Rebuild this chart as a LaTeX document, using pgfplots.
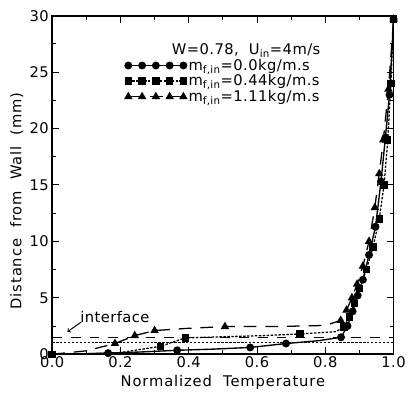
\documentclass[border=0pt]{standalone}
\usepackage{fontspec}
\setmainfont{DejaVu Sans}[LetterSpace=3]
\newfontfamily\wide{DejaVu Sans}[LetterSpace=6]
\usepackage{pgfplots}
\pgfplotsset{compat=1.18}
\begin{document}
\begin{tikzpicture}
\begin{axis}[
  scale only axis, width=347bp, height=344bp,
  xmin=0, xmax=1, ymin=0, ymax=30,
  xtick={0,0.2,0.4,0.6,0.8,1}, ytick={0,5,10,15,20,25,30},
  minor x tick num=1, minor y tick num=1,
  major tick length=7bp, minor tick length=4bp,
  tick style={black, line width=1pt},
  axis line style={line width=1.6pt},
  /pgf/number format/assume math mode=true,
  tick label style={font=\fontsize{15}{16}\selectfont},
  xticklabel style={yshift=1bp, /pgf/number format/fixed, /pgf/number format/fixed zerofill, /pgf/number format/precision=1},
  label style={font=\wide\fontsize{15}{16}\selectfont},
  xlabel={Normalized\ \ Temperature},
  ylabel={Distance\ \ from\ \ Wall\ \ (mm)},
  xlabel style={at={(axis description cs:0.5,-0.084)}, anchor=center},
  ylabel style={at={(axis description cs:-0.104,0.453)}, anchor=center},
  legend style={at={(axis description cs:0.213,0.878)}, anchor=north west, draw=none, fill=none,
    font=\fontsize{15}{16}\selectfont, inner sep=0pt, row sep=-1bp, cells={anchor=west}},
  legend image code/.code={\draw[#1, mark indices={}, mark repeat=1, mark phase=1] plot coordinates {(0bp,0bp) (14bp,0bp) (28bp,0bp) (42bp,0bp) (56bp,0bp)};},
]
% interface lines
\addplot[black, line width=1pt, dash pattern=on 10bp off 9bp, forget plot] coordinates {(0,1.45) (1,1.45)};
\addplot[black, line width=1pt, dash pattern=on 2.5bp off 1.5bp, forget plot] coordinates {(0,1.05) (1,1.05)};

% m = 0.0 (circles, solid)
\addplot[black, line width=1.4pt, mark=*, mark size=3.3bp, mark options={solid},
  mark indices={3,5,7,8,10,11,12,13,14,15,16,17,18,19,20}] coordinates {
(0,0) (0.08,0.02) (0.164,0.1) (0.26,0.2) (0.366,0.35) (0.47,0.45) (0.58,0.6) (0.685,0.95)
(0.78,1.2) (0.846,1.5) (0.865,2.5) (0.88,3.8) (0.895,5.2) (0.91,6.6) (0.928,8.8)
(0.947,11.3) (0.963,15.3) (0.976,19.2) (0.988,23) (1.0,29.7)};
\addlegendentry{m\textsubscript{f,in}=0.0kg/m.s}

% m = 0.44 (squares, fine dashes)
\addplot[black, line width=1.3pt, dash pattern=on 2.5bp off 1.5bp, mark=square*, mark size=3.1bp, mark options={solid},
  mark indices={1,4,5,8,10,11,12,13,14,15,16,17,18,19,20}] coordinates {
(0,0) (0.1,0.05) (0.2,0.15) (0.317,0.7) (0.39,1.45) (0.5,1.55) (0.62,1.65) (0.726,1.8)
(0.83,2.0) (0.855,2.4) (0.87,3.3) (0.885,4.5) (0.9,5.8) (0.92,7.5) (0.94,9.5)
(0.958,12) (0.972,15) (0.983,19) (0.992,24) (1.0,29.7)};
\addlegendentry{m\textsubscript{f,in}=0.44kg/m.s}

% m = 1.11 (triangles, long dashes)
\addplot[black, line width=1.3pt, dash pattern=on 13bp off 9bp, mark=triangle*, mark size=3.7bp, mark options={solid},
  mark indices={3,4,5,7,10,11,12,13,14,15,16,17,18,19,20}] coordinates {
(0,0) (0.1,0.3) (0.184,0.95) (0.242,1.65) (0.30,2.1) (0.4,2.3) (0.506,2.45) (0.65,2.45)
(0.8,2.55) (0.845,3.0) (0.862,3.9) (0.878,5.0) (0.893,6.2) (0.91,7.8) (0.928,10)
(0.945,13) (0.958,16) (0.97,19) (0.985,23.5) (1.0,29.7)};
\addlegendentry{m\textsubscript{f,in}=1.11kg/m.s}

\node[font=\fontsize{15}{16}\selectfont] at (axis cs:0.568,26.9) {W=0.78,\ \ U\textsubscript{in}=4m/s};
\node[font=\fontsize{15}{16}\selectfont] at (axis cs:0.184,3.3) {interface};
\draw[->, line width=1pt] (axis cs:0.085,2.85) -- (axis cs:0.045,2.0);
\end{axis}
\path ([xshift=-53bp,yshift=-39bp]current axis.south west) rectangle ([xshift=9bp,yshift=16bp]current axis.north east);
\end{tikzpicture}
\end{document}
